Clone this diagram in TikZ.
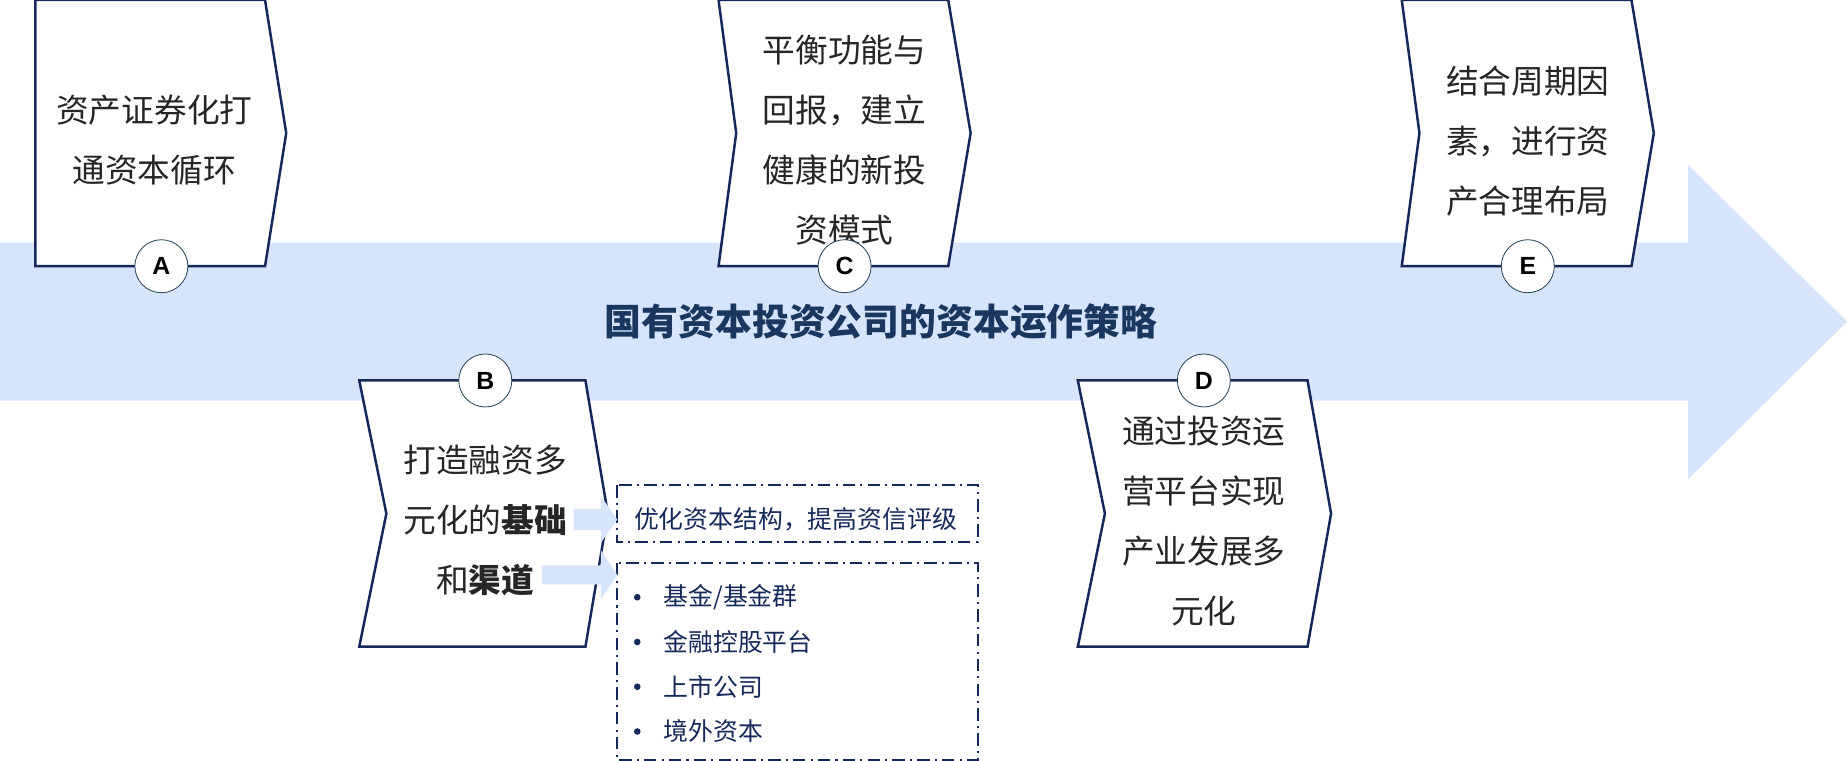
\documentclass[tikz,border=0pt]{standalone}
\usepackage{fontspec}
\setmainfont{Noto Sans CJK SC}
\newfontfamily\latinsans{Liberation Sans}
\usetikzlibrary{shapes,arrows,positioning,fit,calc}
\definecolor{bandblue}{RGB}{214,228,252}
\definecolor{navy}{RGB}{20,40,90}
\definecolor{titleblue}{RGB}{25,55,95}
\definecolor{ringteal}{RGB}{40,70,90}
\tikzset{
    boxline/.style={draw=navy, line width=1.2pt, fill=white},
    boxtext/.style={align=center, font=\fontsize{15.8}{29}\selectfont, text=black!85},
    badge/.style={circle, draw=ringteal, fill=white, minimum size=0.9cm, inner sep=0pt, font=\latinsans\bfseries\fontsize{12}{14}\selectfont},
    dashbox/.style={draw=navy, line width=0.9pt, dash pattern=on 6pt off 2.5pt on 1pt off 2.5pt},
    itemtext/.style={anchor=west, text=navy, font=\fontsize{12}{14}\selectfont, inner sep=0pt}
}
\begin{document}
\begin{tikzpicture}[x=0.02cm, y=-0.02cm]
\useasboundingbox (0,0) rectangle (1568,646);
% main arrow
\fill[bandblue] (0,206) -- (1433,206) -- (1433,140) -- (1568,273) -- (1433,407) -- (1433,340) -- (0,340) -- cycle;
\node[font=\bfseries\fontsize{17.8}{20}\selectfont, text=titleblue] (title) at (748,273) {国有资本投资公司的资本运作策略};
% top boxes
\draw[boxline] (30,0) -- (225,0) -- (243,113) -- (225,226) -- (30,226) -- cycle;
\draw[boxline] (610,0) -- (805,0) -- (824,113) -- (805,226) -- (610,226) -- (625,113) -- cycle;
\draw[boxline] (1190,0) -- (1385,0) -- (1404,113) -- (1385,226) -- (1190,226) -- (1205,113) -- cycle;
\node[boxtext] (textA) at (131,119) {资产证券化打\\通资本循环};
\node[boxtext] (textC) at (717,119) {平衡功能与\\回报，建立\\健康的新投\\资模式};
\node[boxtext] (textE) at (1297,120) {结合周期因\\素，进行资\\产合理布局};
% bottom boxes
\draw[boxline] (305,323) -- (497,323) -- (516,436) -- (497,549) -- (305,549) -- (328,436) -- cycle;
\draw[boxline] (915,323) -- (1110,323) -- (1130,436) -- (1110,549) -- (915,549) -- (938,436) -- cycle;
\node[boxtext] (textB) at (412,442) {打造融资多\\元化的\textbf{基础}\\和\textbf{渠道}};
\node[boxtext] (textD) at (1022,442) {通过投资运\\营平台实现\\产业发展多\\元化};
% badges
\node[badge] (A) at (137,226) {A};
\node[badge] (C) at (717,226) {C};
\node[badge] (E) at (1297,226) {E};
\node[badge] (B) at (412,323) {B};
\node[badge] (D) at (1022,323) {D};
% detail boxes
\draw[dashbox] (524,412) rectangle (830,460);
\draw[dashbox] (524,478) rectangle (830,645);
\node[itemtext] (opt) at (538,441) {优化资本结构，提高资信评级};
\foreach \y/\t in {507/{基金/基金群}, 545/金融控股平台, 583/上市公司, 621/境外资本} {
    \fill[navy] (541,\y) circle (1.6pt);
    \node[itemtext] at (563,\y) {\t};
}
% small arrows
\fill[bandblue] (487,432) -- (510,432) -- (510,421) -- (524,441) -- (510,461) -- (510,450) -- (487,450) -- cycle;
\fill[bandblue] (460,480) -- (510,480) -- (510,467) -- (524,488) -- (510,509) -- (510,496) -- (460,496) -- cycle;
\end{tikzpicture}
\end{document}
